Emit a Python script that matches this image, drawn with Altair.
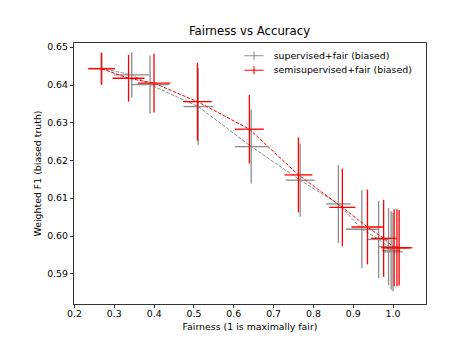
import altair as alt
import pandas as pd

series_names = ["supervised+fair (biased)", "semisupervised+fair (biased)"]
series_colors = ["#8c8c8c", "#ff0000"]

sup_x = [0.268, 0.345, 0.391, 0.512, 0.645, 0.768, 0.864, 0.923, 0.965, 0.990, 0.9965, 1.001]
sup_y = [0.6443, 0.6426, 0.6400, 0.6342, 0.6236, 0.6147, 0.6084, 0.6017, 0.5990, 0.5971, 0.5961, 0.5957]
sup_xerr = [0.033, 0.044, 0.048, 0.037, 0.041, 0.036, 0.031, 0.040, 0.027, 0.027, 0.023, 0.025]
sup_yerr = [0.0042, 0.0060, 0.0077, 0.0102, 0.0098, 0.0097, 0.0103, 0.0103, 0.0102, 0.0102, 0.0104, 0.0104]

semi_x = [0.2696, 0.337, 0.401, 0.510, 0.6405, 0.7636, 0.874, 0.937, 0.9776, 1.004, 1.011, 1.0166]
semi_y = [0.6442, 0.6417, 0.6404, 0.6355, 0.6282, 0.6161, 0.6075, 0.6023, 0.5993, 0.5968, 0.5968, 0.5968]
semi_xerr = [0.0335, 0.040, 0.041, 0.036, 0.0364, 0.035, 0.033, 0.040, 0.032, 0.033, 0.0335, 0.033]
semi_yerr = [0.0042, 0.0062, 0.0078, 0.0103, 0.0091, 0.0099, 0.0103, 0.0099, 0.0102, 0.0102, 0.0102, 0.0100]

x_ticks = [0.2, 0.3, 0.4, 0.5, 0.6, 0.7, 0.8, 0.9, 1.0]
y_ticks = [0.59, 0.60, 0.61, 0.62, 0.63, 0.64, 0.65]

rows = []
for name, xs, ys, xe, ye in [
    (series_names[0], sup_x, sup_y, sup_xerr, sup_yerr),
    (series_names[1], semi_x, semi_y, semi_xerr, semi_yerr),
]:
    for i, (a, b, c, d) in enumerate(zip(xs, ys, xe, ye)):
        rows.append(dict(series=name, idx=i, fair=a, f1=b, xerr=c, yerr=d))
df = pd.DataFrame(rows)

FONT = "DejaVu Sans"
xscale = alt.Scale(domain=[0.1975, 1.084], nice=False, zero=False)
yscale = alt.Scale(domain=[0.5819, 0.6513], nice=False, zero=False)

xaxis = alt.Axis(values=x_ticks, format=".1f", title="Fairness (1 is maximally fair)",
                 grid=False, labelFlush=False)
yaxis = alt.Axis(values=y_ticks, format=".2f", title="Weighted F1 (biased truth)",
                 grid=False, labelFlush=False)

color = alt.Color(
    "series:N",
    scale=alt.Scale(domain=series_names, range=series_colors),
    legend=alt.Legend(
        title=None,
        orient="none",
        legendX=174,
        legendY=6.7,
        symbolType="M-1.6,0L1.6,0M0,-0.67L0,0.67",
        symbolSize=144,
        symbolStrokeWidth=1.1,
        labelOffset=12.7,
        rowPadding=0.6,
        padding=0,
        labelFontSize=9.4,
        labelFont=FONT,
        labelColor="black",
    ),
)

base = alt.Chart(df).transform_calculate(
    xlo="datum.fair - datum.xerr",
    xhi="datum.fair + datum.xerr",
    ylo="datum.f1 - datum.yerr",
    yhi="datum.f1 + datum.yerr",
)

layers = []
for name in series_names:
    b = base.transform_filter(alt.datum.series == name)
    line = b.mark_line(strokeDash=[3.5, 1.5], strokeWidth=1).encode(
        x=alt.X("fair:Q", scale=xscale, axis=xaxis),
        y=alt.Y("f1:Q", scale=yscale, axis=yaxis),
        color=color,
        order="idx:Q",
    )
    hbar = b.mark_rule(strokeWidth=1.3).encode(
        x=alt.X("xlo:Q", scale=xscale),
        x2="xhi:Q",
        y=alt.Y("f1:Q", scale=yscale),
        color=color,
    )
    vbar = b.mark_rule(strokeWidth=1.3).encode(
        x=alt.X("fair:Q", scale=xscale),
        y=alt.Y("ylo:Q", scale=yscale),
        y2="yhi:Q",
        color=color,
    )
    layers += [line, hbar, vbar]

chart = alt.layer(*layers).properties(
    width=353,
    height=262,
    title=alt.TitleParams(
        "Fairness vs Accuracy",
        font=FONT,
        fontSize=11.7,
        fontWeight="normal",
        color="black",
        anchor="middle",
        baseline="alphabetic",
        offset=7,
        dy=12,
    ),
    padding={"left": 73, "top": 42, "right": 46, "bottom": 37},
    autosize=alt.AutoSizeParams(type="none"),
).configure_view(
    stroke="#333333", strokeWidth=1
).configure_axis(
    labelFont=FONT,
    labelFontSize=9.4,
    labelColor="black",
    titleFont=FONT,
    titleFontSize=9.4,
    titleFontWeight="normal",
    titleColor="black",
    domainColor="#333333",
    domainWidth=1,
    tickColor="#333333",
    tickSize=3.5,
    tickWidth=1,
    labelPadding=2,
).configure_axisX(
    titlePadding=5
).configure_axisY(
    titlePadding=4
)

chart.save("out.html", embed_options={"renderer": "svg", "actions": False})
